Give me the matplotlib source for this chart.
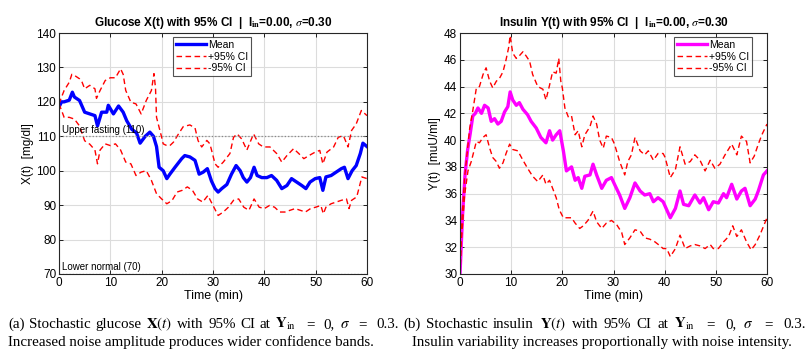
import matplotlib
matplotlib.use("Agg")
import matplotlib.pyplot as plt

plt.rcParams['font.family'] = ['Liberation Sans', 'DejaVu Sans']
plt.rcParams['mathtext.fontset'] = 'stix'

# ---------------- Glucose data ----------------
g_mean_t = [0, 0.5, 1, 2, 2.6, 3, 4, 5, 6, 7, 7.5, 8.3, 9.3, 9.6, 10.6, 11.6, 12.5, 13.2, 14.2, 15.1,
            15.8, 16.8, 17.7, 18.4, 19, 19.5, 20.3, 21, 21.6, 22.6, 23.9, 24.5, 25.5, 26.5, 27.3, 28.1,
            28.9, 29.7, 30.4, 31, 31.7, 32.7, 33.6, 34.5, 35.3, 35.9, 36.6, 37.3, 38, 38.6, 39.5, 40.5,
            41.4, 42.4, 43.4, 44.4, 45.3, 46.3, 47.3, 48.1, 48.9, 49.9, 50.8, 51.4, 52, 53, 54, 55, 55.6,
            56.3, 57.1, 57.9, 58.7, 59.2, 60]
g_mean = [118.5, 120, 120, 120.5, 122.8, 121.4, 120.4, 117, 116.5, 116, 113, 117, 117, 119, 116.5, 118.8,
          117, 114.5, 112, 111, 108, 110, 111.2, 110, 107, 101, 100, 97.7, 99, 101, 103.5, 104.4, 104, 103,
          99, 99.6, 100.6, 97, 94.8, 93.8, 94.8, 96, 99, 101.5, 100, 98, 96.7, 98, 101, 98.6, 98, 98,
          98.6, 97.2, 94.8, 95.7, 97.7, 96.7, 95.7, 94.8, 96.7, 97.7, 98, 94.3, 98.2, 98.6, 99.6, 100.6, 101,
          97.7, 100, 101.5, 105, 108, 107]

g_up_t = [0, 0.5, 1, 2, 2.5, 3, 4, 4.5, 5, 6, 7, 7.3, 8, 9, 10, 11, 12, 12.5, 13, 14, 15, 16, 17, 18,
          18.5, 18.8, 19, 19.5, 20, 20.3, 21, 21.6, 22.3, 23.2, 24.2, 25.5, 26.5, 27.1, 27.8, 28.8, 29.4,
          30.4, 31, 32, 33.3, 34, 34.7, 35.6, 36.6, 37.9, 38.9, 39.8, 41.1, 42.4, 43.4, 44.4, 45.7, 46.7,
          47.7, 48.7, 49.9, 50.8, 51.4, 52.2, 53.5, 54.4, 55.4, 56.3, 57, 57.9, 58.9, 60]
g_up = [119.4, 121.4, 123.3, 125.7, 128, 127.7, 126.7, 125.7, 123.8, 124.8, 123.8, 121, 123.3, 126.2,
        127, 127, 129.6, 128, 123.3, 119.9, 119.4, 116.5, 120.4, 123.3, 128.2, 124, 115.5, 112.6, 109.7,
        107.8, 107.3, 107.3, 108.3, 110.5, 112.8, 113.3, 112.4, 108.7, 106.9, 108.8, 107.8, 102, 101,
        102.5, 105, 109.7, 110.7, 109.2, 106, 110.7, 107.8, 106.9, 106.9, 105, 102.5, 104.4, 106.4, 105,
        103.5, 104.4, 105.4, 105.9, 102, 105.4, 106.9, 109.7, 110.2, 106.9, 111.7, 113.6, 117.5, 116]

g_lo_t = [0, 0.5, 1, 2, 3, 4, 5, 6, 7, 7.5, 8, 9, 10, 11, 12, 13, 14, 15, 16, 17, 18, 19, 20, 21, 22,
          23, 24, 25, 26, 27, 28, 29, 30, 31, 32, 33, 34, 35, 36, 37, 38, 39, 40, 41, 42, 43, 44, 45, 46,
          47, 48, 49, 50, 51, 51.5, 52, 53, 54, 55, 56, 56.5, 57, 58, 59, 60]
g_lo = [119.4, 117.5, 115.5, 115.5, 115, 113, 108.7, 107.7, 106, 102, 106, 107.8, 107.3, 107.8, 106,
        102.5, 102, 98.6, 99.6, 100, 97.2, 93.3, 91.8, 90.4, 91.3, 93.8, 94.3, 95.3, 94.3, 91.8, 90.9,
        92.8, 89.9, 87, 88, 89.4, 91.4, 91.8, 89.4, 88.5, 91.8, 89.4, 89, 89.9, 89.4, 88, 88, 88.5, 89,
        88.5, 88, 89, 89.4, 89.9, 87.5, 89.4, 90.4, 90.9, 91.4, 91.8, 89, 91.4, 92.4, 98.2, 97.7]

# ---------------- Insulin data ----------------
i_mean_t = [0, 0.5, 1, 1.5, 2, 2.5, 3, 3.5, 4.2, 4.8, 5.5, 6.1, 6.75, 7.4, 8.05, 8.7, 9.35, 9.8, 10.3,
            11, 11.6, 12.3, 13.2, 13.9, 14.9, 15.8, 16.8, 17.5, 18.1, 18.8, 19.5, 20.2, 20.8, 21.8, 22.5,
            23.1, 23.8, 24.4, 25.4, 26, 26.7, 27.7, 28.6, 29.6, 30.2, 31.2, 32.2, 33.2, 34.2, 35.2, 36.1,
            37.1, 37.8, 38.7, 39.7, 40.4, 41.1, 42.1, 43, 43.7, 44.7, 45.9, 46.9, 47.6, 48.6, 49.5, 50.5,
            51.5, 52.1, 53.1, 54.1, 55, 55.7, 56.7, 57.7, 58.3, 59.3, 60]
i_mean = [30, 34.4, 37.5, 39.3, 40.5, 41.8, 42, 42.4, 42, 42.6, 42.4, 41.4, 41.6, 41.2, 41.4, 42.1, 42.5,
          43.6, 43, 42.6, 42.8, 42.3, 41.9, 41.4, 40.9, 40.2, 39.8, 40.7, 40, 40.4, 40.7, 39.2, 37.7, 38,
          37, 37.2, 36.4, 37.3, 37.4, 38.2, 37.4, 36.4, 37, 37.2, 36.7, 35.9, 34.9, 35.7, 36.8, 36.2, 35.9,
          36, 35.4, 35.7, 35.4, 34.8, 34.2, 34.9, 36.2, 35.2, 35.1, 35.9, 35.3, 35.7, 34.8, 35.4, 35.3,
          36, 35.7, 36.7, 35.6, 36.2, 36.4, 35.1, 35.6, 36.2, 37.4, 37.7]

i_up_t = [0, 0.26, 0.9, 1.9, 2.5, 3.2, 3.8, 4.5, 5.1, 5.8, 6.4, 7.1, 7.7, 8.4, 9, 9.5, 9.8, 10.3, 11,
          11.6, 12.3, 12.9, 13.6, 14.2, 15.2, 16.2, 16.8, 17.5, 18.1, 18.8, 19.3, 19.7, 20, 20.5, 21.2,
          21.8, 22.5, 23.1, 23.8, 24.4, 25.4, 26, 26.7, 27.3, 28, 28.6, 29.6, 30.2, 31.2, 32.2, 32.8, 33.5,
          34.2, 35.2, 36.1, 36.8, 37.8, 38.7, 39.7, 40.1, 41.1, 42.1, 43, 44, 45, 45.9, 46.9, 47.9, 48.9,
          49.8, 50.8, 51.8, 53.1, 54.1, 55, 56, 56.7, 57.5, 58.3, 59, 60]
i_up = [30, 33.4, 37.2, 40.9, 42.2, 43.9, 44, 44.9, 45.4, 44.4, 43.9, 44.4, 44.6, 45.1, 46, 46.9, 47.8,
        46.5, 46.1, 46.3, 46.6, 46.3, 45.9, 44.9, 44, 43.8, 43, 44.1, 45.1, 45, 46.1, 44.4, 43.9, 42.4,
        41.7, 41.8, 40.4, 40.7, 39.5, 40.4, 41, 41.8, 41.2, 40, 39.4, 40.3, 40.2, 39.7, 38.4, 37.4, 38.4,
        38.9, 40.2, 39.2, 38.9, 39.2, 38.5, 39, 39, 38.7, 37.2, 37.8, 39.5, 38.2, 38.4, 38.9, 38.5, 37.7,
        38.5, 37.9, 38.2, 38.9, 39.7, 38.9, 40.3, 39.9, 38.3, 38.8, 39.7, 40.4, 41.2]

i_lo_t = [0, 0.26, 0.9, 1.56, 2.2, 3.2, 3.8, 4.5, 5.1, 5.8, 6.4, 7.1, 7.7, 8.4, 9, 9.7, 10.3, 11.3, 12.3,
          13.2, 14.2, 15.2, 16.2, 16.8, 17.5, 18.1, 18.8, 19.4, 20.2, 20.8, 21.8, 22.5, 23.4, 24.1, 25,
          26, 26.7, 27.7, 28.6, 29.6, 30.6, 31.6, 32.2, 33.2, 34.2, 35.2, 36.1, 37.1, 38.1, 39.1, 39.7,
          40.4, 41.1, 42.1, 43, 44, 45, 45.9, 46.9, 47.9, 48.9, 49.5, 50.5, 51.5, 52.5, 53.3, 54.1, 55,
          56, 56.9, 57.7, 58.6, 60]
i_lo = [30, 32.4, 35.9, 37.7, 38.4, 39.9, 39.8, 40.2, 40.4, 39.4, 38.7, 38.4, 37.9, 38.3, 39, 39.7,
        39.3, 39.2, 38.5, 37.9, 37.3, 36.9, 37.4, 36.7, 37, 36.4, 35.7, 34.8, 34.2, 34.2, 34.2, 33.8,
        33.4, 33.6, 34, 34.7, 33.9, 33.4, 33.8, 34, 33.7, 33.1, 32.2, 32.7, 33.3, 33.2, 32.7, 32.6, 32.4,
        32.1, 31.9, 31.9, 31.3, 31.9, 32.9, 31.9, 32.1, 32.2, 32.1, 31.9, 32.2, 31.9, 31.9, 32.4, 32.8,
        33.6, 32.8, 33.3, 32.4, 31.8, 32.2, 32.9, 34.2]

x_ticks = [0, 10, 20, 30, 40, 50, 60]
g_yticks = [70, 80, 90, 100, 110, 120, 130, 140]
i_yticks = [30, 32, 34, 36, 38, 40, 42, 44, 46, 48]
upper_fasting = 110
lower_normal = 70

cap_a1 = [r'(a)', 'Stochastic', 'glucose', r'$\mathbf{X}(t)$', 'with', '95%', 'CI', 'at',
          r'$\mathbf{Y}_{\rm in}$', '=', '0,', r'$\sigma$', '=', '0.3.']
cap_a2 = 'Increased noise amplitude produces wider confidence bands.'
cap_b1 = [r'(b)', 'Stochastic', 'insulin', r'$\mathbf{Y}(t)$', 'with', '95%', 'CI', 'at',
          r'$\mathbf{Y}_{\rm in}$', '=', '0,', r'$\sigma$', '=', '0.3.']
cap_b2 = 'Insulin variability increases proportionally with noise intensity.'

W, H = 809, 359
fig = plt.figure(figsize=(W / 100, H / 100), dpi=100)
renderer = fig.canvas.get_renderer()


def style(ax):
    ax.grid(True, color='#dcdcdc', linewidth=0.8)
    ax.set_axisbelow(True)
    ax.tick_params(direction='in', top=True, right=True, labelsize=8.5, length=3, width=0.6, pad=2)
    for s in ax.spines.values():
        s.set_linewidth(0.8)
        s.set_color('#262626')
    ax.set_xlabel('Time (min)', fontsize=9, labelpad=1)


DASH = (0, (4, 2.5))
leg_kw = dict(fontsize=7.5, frameon=True, fancybox=False, edgecolor='#262626', handlelength=2.9,
              borderpad=0.3, labelspacing=0.15, handletextpad=0.15, borderaxespad=0.0)

ax1 = fig.add_axes([59 / W, 1 - 274 / H, (367 - 59) / W, (274 - 33) / H])
ax1.plot(g_mean_t, g_mean, color='#0000ff', lw=2.4, label='Mean')
ax1.plot(g_up_t, g_up, color='#ff0000', lw=1.0, ls=DASH, label='+95% CI')
ax1.plot(g_lo_t, g_lo, color='#ff0000', lw=1.0, ls=DASH, label='-95% CI')
ax1.axhline(upper_fasting, color='#888888', lw=0.9, ls=':')
ax1.axhline(lower_normal, color='#888888', lw=0.9, ls=':')
ax1.text(0.5, upper_fasting + 0.5, 'Upper fasting (110)', fontsize=7, va='bottom', ha='left')
ax1.text(0.5, lower_normal + 0.5, 'Lower normal (70)', fontsize=7, va='bottom', ha='left')
ax1.set_xlim(0, 60)
ax1.set_ylim(70, 140)
ax1.set_xticks(x_ticks)
ax1.set_yticks(g_yticks)
ax1.set_ylabel('X(t)  [mg/dl]', fontsize=8.5, labelpad=2)
ax1.set_title(r'Glucose X(t) with 95% CI  |  I$_{\mathbf{in}}$=0.00, $\sigma$=0.30',
              fontsize=8.5, fontweight='bold', pad=5)
style(ax1)
leg1 = ax1.legend(loc='upper center', bbox_to_anchor=((212 - 59) / 308, 1 - 4 / 241), **leg_kw)
leg1.get_frame().set_linewidth(0.8)

ax2 = fig.add_axes([460 / W, 1 - 274 / H, (767 - 460) / W, (274 - 33) / H])
ax2.plot(i_mean_t, i_mean, color='#ff00ff', lw=2.4, label='Mean')
ax2.plot(i_up_t, i_up, color='#ff0000', lw=1.0, ls=DASH, label='+95% CI')
ax2.plot(i_lo_t, i_lo, color='#ff0000', lw=1.0, ls=DASH, label='-95% CI')
ax2.set_xlim(0, 60)
ax2.set_ylim(30, 48)
ax2.set_xticks(x_ticks)
ax2.set_yticks(i_yticks)
ax2.set_ylabel('Y(t)  [muU/ml]', fontsize=8.5, labelpad=2)
ax2.set_title(r'Insulin Y(t) with 95% CI  |  I$_{\mathbf{in}}$=0.00, $\sigma$=0.30',
              fontsize=8.5, fontweight='bold', pad=5)
style(ax2)
leg2 = ax2.legend(loc='upper right', bbox_to_anchor=((752 - 460) / 307, 1 - 4 / 241), **leg_kw)
leg2.get_frame().set_linewidth(0.8)

cap_kw = dict(fontsize=10.8, family=['Liberation Serif', 'DejaVu Serif'], ha='left', va='baseline')


def justify(tokens, x0, x1, ybase):
    texts = [fig.text(0, 1 - ybase / H, tok, **cap_kw) for tok in tokens]
    widths = [t.get_window_extent(renderer=renderer).width for t in texts]
    weights = []
    for i in range(len(tokens) - 1):
        weights.append(2.0 if (tokens[i] == '=' or tokens[i + 1] == '=') else 1.0)
    unit = ((x1 - x0) - sum(widths)) / sum(weights)
    x = x0
    for i, t in enumerate(texts):
        t.set_x(x / W)
        if i < len(weights):
            x += widths[i] + weights[i] * unit


justify(cap_a1, 8, 399, 328)
fig.text(8 / W, 1 - 346 / H, cap_a2, **cap_kw)
justify(cap_b1, 403, 806, 328)
fig.text(412 / W, 1 - 346 / H, cap_b2, **cap_kw)

fig.savefig('out.png', dpi=100)
